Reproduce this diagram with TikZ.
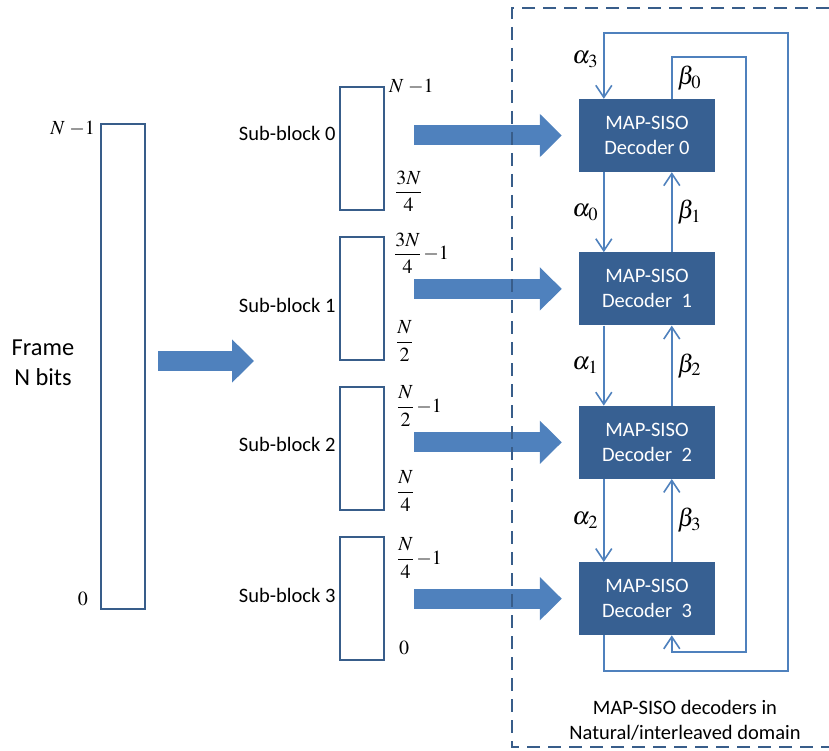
\documentclass[tikz,border=0pt]{standalone}
\usepackage{mathptmx}
\usepackage[no-math]{fontspec}
\setmainfont{Carlito}
\usepackage{tikz}
\usetikzlibrary{arrows.meta, positioning, calc}
\definecolor{arrowblue}{RGB}{79,129,189}
\definecolor{boxblue}{RGB}{56,93,138}
\definecolor{decblue}{RGB}{55,96,146}
\tikzset{%
	block/.style = {
		rectangle, draw=boxblue, line width=2pt,
		minimum width=44pt, minimum height=123pt, inner sep=0pt
	},
	decoder/.style = {
		rectangle, fill=decblue, text=white,
		minimum width=136pt, minimum height=73pt,
		align=center, font=\fontsize{20.5}{25}\selectfont
	},
	fat/.style = {
		arrowblue, line width=20pt, -{Triangle[length=22pt,width=42pt]}
	},
	link/.style = {
		arrowblue, line width=1.6pt, -{Straight Barb[length=12pt,width=16pt]}
	},
	idx/.style = {anchor=west, inner sep=0pt, font=\fontsize{20}{23}\selectfont},
	sym/.style = {text=black, inner sep=2pt, font=\fontsize{25}{28}\selectfont},
	dashbox/.style = {draw=boxblue, line width=2pt, dash pattern=on 13pt off 8pt}
}

\begin{document}
\begin{tikzpicture}[x=1pt, y=-1pt, node distance=25pt, every node/.style={font=\fontsize{20.5}{25}\selectfont}]
    \useasboundingbox (0,0) rectangle (829,751);
    % Frame of N bits
    \node (frame)    [block, minimum height=485pt] at (123,366.5) {};
    \node (framelbl) [align=center, font=\fontsize{24.4}{30}\selectfont] at (43,363) {Frame\\N bits};
    \node [idx, anchor=east] at ($(frame.north west)+(-5,6)$) {$N\;{-}1$};
    \node [idx, anchor=east] at ($(frame.south west)+(-12,-11)$) {$0$};

    % Sub-blocks
    \node (sb0) [block] at (362,148.5) {};
    \node (sb1) [block, below=of sb0] {};
    \node (sb2) [block, below=of sb1] {};
    \node (sb3) [block, below=of sb2] {};

    \node [left=0pt of sb0, yshift=15pt]  {Sub-block 0};
    \node [left=0pt of sb1, yshift=-7pt]  {Sub-block 1};
    \node [left=0pt of sb2, yshift=4pt]   {Sub-block 2};
    \node [left=0pt of sb3, yshift=3pt]   {Sub-block 3};

    \node [idx] at ($(sb0.north east)+(4,1)$)   {$N\;{-}1$};
    \node [idx] at ($(sb0.south east)+(10,-20)$) {$\displaystyle\frac{3N}{4}$};
    \node [idx] at ($(sb1.north east)+(9,17)$)  {$\displaystyle\frac{3N}{4}\,{-}1$};
    \node [idx] at ($(sb1.south east)+(11,-20)$) {$\displaystyle\frac{N}{2}$};
    \node [idx] at ($(sb2.north east)+(12,20)$) {$\displaystyle\frac{N}{2}\,{-}1$};
    \node [idx] at ($(sb2.south east)+(12,-20)$) {$\displaystyle\frac{N}{4}$};
    \node [idx] at ($(sb3.north east)+(12,22)$) {$\displaystyle\frac{N}{4}\,{-}1$};
    \node [idx] at ($(sb3.south east)+(14,-13)$) {$0$};

    % Decoders
    \node (dec0) [decoder] at (647,135.5)        {MAP-SISO\\Decoder 0};
    \node (dec1) [decoder, below=80pt of dec0]   {MAP-SISO\\Decoder\ \ 1};
    \node (dec2) [decoder, below=80pt of dec1]   {MAP-SISO\\Decoder\ \ 2};
    \node (dec3) [decoder, below=83pt of dec2]   {MAP-SISO\\Decoder\ \ 3};

    % Block arrows
    \coordinate (split) at (254,361);
    \draw[fat] ($(frame.east |- split)+(12,0)$) -- (split);
    \draw[fat] ($(sb0.east |- dec0.west)+(29,0)$) -- ($(dec0.west)+(-17,0)$);
    \draw[fat] ($(sb1.east |- dec1.west)+(29,0)$) -- ($(dec1.west)+(-17,0)$);
    \draw[fat] ($(sb2.east |- dec2.west)+(29,0)$) -- ($(dec2.west)+(-17,0)$);
    \draw[fat] ($(sb3.east |- dec3.west)+(29,0)$) -- ($(dec3.west)+(-17,0)$);

    % Alpha / beta exchange
    \draw[link] ($(dec0.south west)+(25,0)$) -- node[left=3pt, sym] {$\alpha_0$} ($(dec1.north west)+(25,0)$);
    \draw[link] ($(dec1.south west)+(25,0)$) -- node[left=3pt, sym] {$\alpha_1$} ($(dec2.north west)+(25,0)$);
    \draw[link] ($(dec2.south west)+(25,0)$) -- node[left=3pt, sym] {$\alpha_2$} ($(dec3.north west)+(25,0)$);
    \draw[link] ($(dec1.north west)+(93,0)$) -- node[right=3pt, sym] {$\beta_1$} ($(dec0.south west)+(93,0)$);
    \draw[link] ($(dec2.north west)+(93,0)$) -- node[right=3pt, sym] {$\beta_2$} ($(dec1.south west)+(93,0)$);
    \draw[link] ($(dec3.north west)+(93,0)$) -- node[right=3pt, sym] {$\beta_3$} ($(dec2.south west)+(93,0)$);

    % Wrap-around loops
    \coordinate (outerTR) at (788,33);
    \coordinate (outerBR) at (788,671);
    \coordinate (innerTR) at (746,57);
    \coordinate (innerBR) at (746,652);
    \draw[link] ($(dec3.south west)+(25,0)$) |- (outerBR) -- (outerTR) -| node[pos=0.7, left=3pt, sym] {$\alpha_3$} ($(dec0.north west)+(25,0)$);
    \draw[link] ($(dec0.north west)+(93,0)$) |- node[pos=0.25, right=3pt, sym] {$\beta_0$} (innerTR) -- (innerBR) -| ($(dec3.south west)+(93,0)$);

    % Decoder domain
    \draw[dashbox] (829,8) -- (512,8) -- (512,747) -- (829,747);
    \node (caption) [align=center] at (685,720) {MAP-SISO decoders in\\Natural/interleaved domain};

\end{tikzpicture}
\end{document}
